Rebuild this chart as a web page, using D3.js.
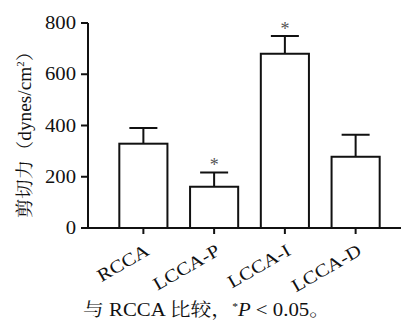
<!DOCTYPE html>
<html>
<head>
<meta charset="utf-8">
<script src="https://cdn.jsdelivr.net/npm/d3@7"></script>
</head>
<body style="margin:0;background:#fff">
<script>
// data
var groups = ["RCCA", "LCCA-P", "LCCA-I", "LCCA-D"];
var means = [329, 161, 680, 278];
var errTops = [390, 217, 749, 364];
var signif = [false, true, true, false];
var yTicks = [0, 200, 400, 600, 800];

var width = 403, height = 322;
var latin = "'Liberation Serif'";
var cjk = "'Liberation Serif', 'Noto Serif CJK SC'";
var wide = 1.15; // the source typesetting uses horizontally widened glyphs

// widen a text selection horizontally by k
function stretch(sel, k) {
  sel.each(function() {
    var len = this.getComputedTextLength();
    d3.select(this).attr("textLength", len * k).attr("lengthAdjust", "spacingAndGlyphs");
  });
}

var svg = d3.select("body").append("svg")
    .attr("width", width)
    .attr("height", height);

var x = d3.scaleBand()
    .domain(groups)
    .range([108, 391])
    .paddingInner(0.32)
    .paddingOuter(0.16);

var y = d3.scaleLinear()
    .domain([0, 800])
    .range([228, 23]);

// y axis line and ticks
svg.append("line")
    .attr("x1", 88).attr("x2", 88)
    .attr("y1", y(0) + 1).attr("y2", y(800))
    .attr("stroke", "#111").attr("stroke-width", 2);
svg.selectAll(".yt")
    .data(yTicks)
    .enter().append("line")
    .attr("x1", 81).attr("x2", 88)
    .attr("y1", function(d) { return y(d); })
    .attr("y2", function(d) { return y(d); })
    .attr("stroke", "#111").attr("stroke-width", 2);
var yl = svg.selectAll(".yl")
    .data(yTicks)
    .enter().append("text")
    .attr("x", 76)
    .attr("y", function(d) { return y(d) + 6; })
    .attr("text-anchor", "end")
    .attr("fill", "#111")
    .style("font-family", latin)
    .style("font-size", "18px")
    .text(function(d) { return d; });
stretch(yl, wide);

// x axis
svg.append("line")
    .attr("x1", 81).attr("x2", 401)
    .attr("y1", y(0)).attr("y2", y(0))
    .attr("stroke", "#111").attr("stroke-width", 2);
svg.selectAll(".xt")
    .data(groups)
    .enter().append("line")
    .attr("x1", function(d) { return x(d) + x.bandwidth() / 2; })
    .attr("x2", function(d) { return x(d) + x.bandwidth() / 2; })
    .attr("y1", y(0)).attr("y2", y(0) + 6)
    .attr("stroke", "#111").attr("stroke-width", 2);
var xl = svg.selectAll(".xl")
    .data(groups)
    .enter().append("text")
    .attr("transform", function(d) {
      return "translate(" + (x(d) + x.bandwidth() / 2 + 7) + "," + (y(0) + 26) + ") rotate(-30)";
    })
    .attr("text-anchor", "end")
    .attr("fill", "#111")
    .style("font-family", latin)
    .style("font-size", "18px")
    .text(function(d) { return d; });
stretch(xl, wide);

// error bars
var cap = 14;
svg.selectAll(".err")
    .data(groups)
    .enter().append("path")
    .attr("d", function(d, i) {
      var cx = x(d) + x.bandwidth() / 2;
      return "M" + cx + "," + y(means[i]) + "V" + y(errTops[i]) +
             "M" + (cx - cap) + "," + y(errTops[i]) + "H" + (cx + cap);
    })
    .attr("fill", "none")
    .attr("stroke", "#111")
    .attr("stroke-width", 2);

svg.selectAll(".bar")
    .data(groups)
    .enter().append("rect")
    .attr("x", function(d) { return x(d); })
    .attr("y", function(d, i) { return y(means[i]); })
    .attr("width", x.bandwidth())
    .attr("height", function(d, i) { return y(0) - y(means[i]); })
    .attr("fill", "#fff")
    .attr("stroke", "#111")
    .attr("stroke-width", 2);

// significance stars
svg.selectAll(".star")
    .data(groups.filter(function(d, i) { return signif[i]; }))
    .enter().append("text")
    .attr("x", function(d) { return x(d) + x.bandwidth() / 2; })
    .attr("y", function(d) { return y(errTops[groups.indexOf(d)]) - 1; })
    .attr("text-anchor", "middle")
    .attr("fill", "#555")
    .style("font-family", latin)
    .style("font-size", "18px")
    .text("*");

// y axis title
var yt = svg.append("text")
    .attr("transform", "translate(31,130) rotate(-90)")
    .attr("text-anchor", "middle")
    .attr("fill", "#111")
    .style("font-family", cjk)
    .style("font-size", "18px");
yt.append("tspan").text("剪切力（dynes/cm");
yt.append("tspan").attr("dy", -7).style("font-size", "10px").text("2");
yt.append("tspan").attr("dy", 7).text("）");
yt.attr("textLength", 176).attr("lengthAdjust", "spacingAndGlyphs");

// footnote
var fn = svg.append("text")
    .attr("x", 83)
    .attr("y", 316)
    .attr("fill", "#111")
    .style("font-family", cjk)
    .style("font-size", "18px");
fn.append("tspan").text("与 RCCA 比较，");
fn.append("tspan").attr("dy", -6).style("font-size", "10px").text("*");
fn.append("tspan").attr("dy", 6).style("font-style", "italic").text("P");
fn.append("tspan").text(" < 0.05。");
fn.attr("textLength", 247).attr("lengthAdjust", "spacingAndGlyphs");
</script>
</body>
</html>
